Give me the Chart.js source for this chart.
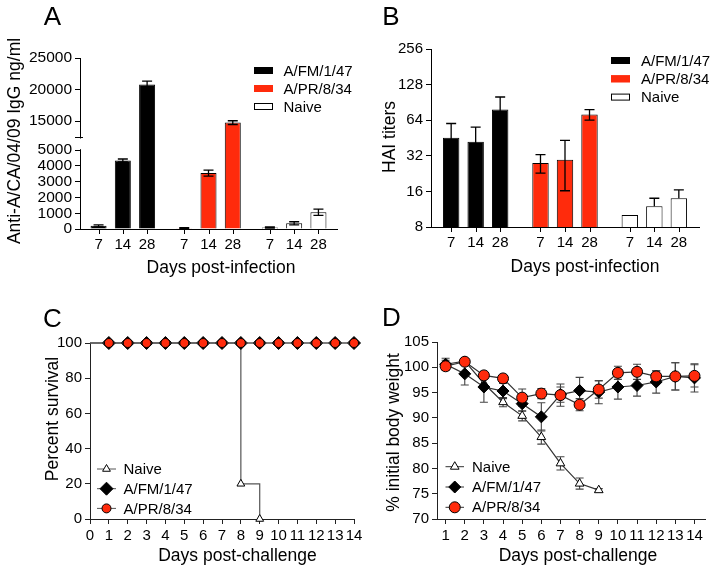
<!DOCTYPE html>
<html>
<head>
<meta charset="utf-8">
<script src="https://cdn.jsdelivr.net/npm/chart.js@4.4.1/dist/chart.umd.min.js"></script>
<style>
  body { margin: 0; background: #fff; }
  #fig { position: relative; width: 714px; height: 575px; overflow: hidden; }
  #fig canvas { position: absolute; }
</style>
</head>
<body>
<div id="fig">
  <canvas id="panelA" width="357" height="290" style="left:0;top:0"></canvas>
  <canvas id="panelB" width="357" height="290" style="left:357px;top:0"></canvas>
  <canvas id="panelC" width="380" height="285" style="left:0;top:290px"></canvas>
  <canvas id="panelD" width="357" height="285" style="left:357px;top:290px"></canvas>
</div>
<script>
const FONT = "'Liberation Sans', Arial, Helvetica, sans-serif";
const RED = '#ff2b0c';
Chart.defaults.font.family = FONT;
Chart.defaults.color = '#000';

// ── Data ────────────────────────────────────────────────────────────────
const strains = ['A/FM/1/47', 'A/PR/8/34', 'Naive'];
const infectionDays = ['7', '14', '28'];

// A: anti-A/CA/04/09 IgG (ng/ml), mean and SEM at day 7 / 14 / 28
const iggFM       = [200, 4350, 20800];
const iggFMErr    = [60, 90, 520];
const iggPR       = [50, 3550, 14750];
const iggPRErr    = [30, 190, 300];
const iggNaive    = [100, 360, 1060];
const iggNaiveErr = [40, 100, 200];
const iggTicks    = [0, 1000, 2000, 3000, 4000, 5000, 15000, 20000, 25000];

// B: HAI titers
const haiFM       = [45.5, 42, 79];
const haiFMErr    = [14.5, 14, 21.5];
const haiPR       = [27.8, 29.7, 71.4];
const haiPRErr    = [5, 13.5, 7.3];
const haiNaive    = [10.1, 12, 14];
const haiNaiveErr = [0, 2, 2.5];
const haiTicks    = [8, 16, 32, 64, 128, 256];

// C: percent survival
const survDays      = [0, 1, 2, 3, 4, 5, 6, 7, 8, 9, 10, 11, 12, 13, 14];
const survFM        = [100, 100, 100, 100, 100, 100, 100, 100, 100, 100, 100, 100, 100, 100, 100];
const survPR        = [100, 100, 100, 100, 100, 100, 100, 100, 100, 100, 100, 100, 100, 100, 100];
const survNaiveDays = [0, 8, 9];
const survNaive     = [100, 20, 0];

// D: % initial body weight
const weightDays     = [1, 2, 3, 4, 5, 6, 7, 8, 9, 10, 11, 12, 13, 14];
const weightNaive    = [100.6, 101.2, 96.8, 93.1, 90.4, 86.2, 81.0, 77.0, 75.7];
const weightNaiveErr = [1.2, 0.5, 1.0, 0.9, 1.0, 1.4, 1.3, 1.1, 0.3];
const weightFM       = [100.6, 98.7, 96.1, 95.3, 92.8, 90.2, 94.6, 95.4, 95.1, 96.1, 96.4, 97.1, 98.2, 97.9];
const weightFMErr    = [0.8, 2.2, 3.0, 1.5, 1.5, 2.8, 1.5, 2.6, 2.3, 2.4, 2.1, 2.2, 2.7, 2.8];
const weightPR       = [100.2, 101.1, 98.4, 97.8, 94.0, 94.8, 94.5, 92.6, 95.6, 98.9, 99.1, 98.2, 98.2, 98.3];
const weightPRErr    = [0.7, 0.4, 0.5, 0.6, 1.7, 1.0, 2.2, 1.2, 1.7, 1.3, 1.5, 1.1, 2.7, 2.2];

// ── Styling helpers ─────────────────────────────────────────────────────
const strainFill   = ['#000', RED, '#fff'];
const strainStroke = ['#000', RED, '#000'];

// Broken y axis of panel A: 0–5000 below the break, 12500–25000 squeezed above it
const BREAK_LO = 5000, BREAK_HI = 12500, BREAK_GAP = 850, UPPER_K = 0.4;
function brokenY(v) {
  return v <= BREAK_LO ? v : BREAK_LO + BREAK_GAP + (v - BREAK_HI) * UPPER_K;
}

const noInteraction = { responsive: false, animation: false, events: [], devicePixelRatio: 1 };

function axisGrid(color) {
  return { display: true, drawOnChartArea: false, drawTicks: true, tickLength: 5, color, lineWidth: 1 };
}

// One dataset per day, one bar per strain inside each group
function groupedBars(series, errs, transform) {
  return infectionDays.map((day, i) => ({
    label: day,
    data: series.map(s => transform(s[i])),
    err: series.map((s, k) => [transform(Math.max(s[i] - errs[k][i], 0)), transform(s[i] + errs[k][i])]),
    backgroundColor: strainFill,
    borderColor: '#000',
    borderWidth: 1,
  }));
}

function drawMarker(ctx, style, x, y, r, fill) {
  ctx.beginPath();
  if (style === 'circle') {
    ctx.arc(x, y, r, 0, Math.PI * 2);
  } else if (style === 'rectRot') {
    ctx.moveTo(x - r, y); ctx.lineTo(x, y - r); ctx.lineTo(x + r, y); ctx.lineTo(x, y + r);
    ctx.closePath();
  } else {
    for (let k = 0; k < 3; k++) {
      const a = k * 2 * Math.PI / 3;
      const px = x + Math.sin(a) * r, py = y - Math.cos(a) * r;
      k ? ctx.lineTo(px, py) : ctx.moveTo(px, py);
    }
    ctx.closePath();
  }
  ctx.fillStyle = fill;
  ctx.fill();
  ctx.strokeStyle = '#000';
  ctx.lineWidth = 1;
  ctx.stroke();
}

// ── Plugins ─────────────────────────────────────────────────────────────

function strokeErrors(chart, opts) {
  const { ctx } = chart;
  const y = chart.scales.y;
  const half = opts.cap / 2;
  ctx.save();
  ctx.strokeStyle = opts.color;
  ctx.lineWidth = opts.width;
  chart.data.datasets.forEach((ds, di) => {
    if (!ds.err) return;
    chart.getDatasetMeta(di).data.forEach((el, i) => {
      const [lo, hi] = ds.err[i];
      if (hi === lo) return;
      const top = y.getPixelForValue(hi);
      const upperOnly = opts.upperOnly && opts.upperOnly[i];
      const bot = upperOnly ? el.y : y.getPixelForValue(lo);
      ctx.beginPath();
      ctx.moveTo(el.x, top); ctx.lineTo(el.x, bot);
      ctx.moveTo(el.x - half, top); ctx.lineTo(el.x + half, top);
      if (!upperOnly) { ctx.moveTo(el.x - half, bot); ctx.lineTo(el.x + half, bot); }
      ctx.stroke();
    });
  });
  ctx.restore();
}

const errorBars = {
  id: 'errorBars',
  beforeDatasetsDraw(chart, args, opts) { if (opts.under) strokeErrors(chart, opts); },
  afterDatasetsDraw(chart, args, opts) { if (!opts.under) strokeErrors(chart, opts); },
};

// Tick mark and day label under every bar
const dayTicks = {
  id: 'dayTicks',
  afterDraw(chart, args, opts) {
    if (!opts.enabled) return;
    const { ctx, chartArea } = chart;
    ctx.save();
    ctx.strokeStyle = '#000';
    ctx.lineWidth = 1;
    ctx.fillStyle = '#000';
    ctx.font = `${opts.size}px ${FONT}`;
    ctx.textAlign = 'center';
    ctx.textBaseline = 'top';
    chart.data.datasets.forEach((ds, di) => {
      chart.getDatasetMeta(di).data.forEach(el => {
        const x = Math.round(el.x) + 0.5;
        ctx.beginPath();
        ctx.moveTo(x, chartArea.bottom); ctx.lineTo(x, chartArea.bottom + 5);
        ctx.stroke();
        ctx.fillText(ds.label, el.x, chartArea.bottom + 8);
      });
    });
    ctx.restore();
  }
};

// Gap in the y axis of panel A
const axisBreak = {
  id: 'axisBreak',
  afterDraw(chart, args, opts) {
    if (!opts.enabled) return;
    const { ctx, chartArea } = chart;
    const y = chart.scales.y;
    const lowTop = y.getPixelForValue(BREAK_LO);
    const upBot = Math.round(y.getPixelForValue(BREAK_LO + BREAK_GAP)) + 0.5;
    const x = chartArea.left;
    ctx.save();
    ctx.fillStyle = '#fff';
    ctx.fillRect(x - 2, upBot + 1, 4, lowTop - upBot - 2);
    ctx.strokeStyle = '#000';
    ctx.lineWidth = 1;
    ctx.beginPath();
    ctx.moveTo(x - 5, upBot); ctx.lineTo(x + 3, upBot);
    ctx.stroke();
    ctx.restore();
  }
};

const boxLegend = {
  id: 'boxLegend',
  afterDraw(chart, args, opts) {
    if (!opts.enabled) return;
    const ctx = chart.ctx;
    ctx.save();
    ctx.font = `${opts.size}px ${FONT}`;
    ctx.textAlign = 'left';
    ctx.textBaseline = 'middle';
    strains.forEach((name, i) => {
      const y = opts.y + i * opts.gap;
      ctx.fillStyle = strainFill[i];
      ctx.fillRect(opts.x, y - opts.h / 2, opts.w, opts.h);
      ctx.strokeStyle = strainStroke[i];
      ctx.lineWidth = 1;
      ctx.strokeRect(opts.x + 0.5, y - opts.h / 2 + 0.5, opts.w - 1, opts.h - 1);
      ctx.fillStyle = '#000';
      ctx.fillText(name, opts.textX, y + 1);
    });
    ctx.restore();
  }
};

const markerLegend = {
  id: 'markerLegend',
  afterDraw(chart, args, opts) {
    if (!opts.enabled) return;
    const ctx = chart.ctx;
    ctx.save();
    ctx.font = `${opts.size}px ${FONT}`;
    ctx.textAlign = 'left';
    ctx.textBaseline = 'middle';
    opts.order.forEach((label, i) => {
      const ds = chart.data.datasets.find(d => d.label === label);
      const y = opts.y + i * opts.gap;
      ctx.strokeStyle = ds.borderColor;
      ctx.lineWidth = 1;
      ctx.beginPath();
      ctx.moveTo(opts.x1, y); ctx.lineTo(opts.x2, y);
      ctx.stroke();
      drawMarker(ctx, ds.pointStyle, (opts.x1 + opts.x2) / 2, y, ds.markerR, ds.pointBackgroundColor);
      ctx.fillStyle = '#000';
      ctx.fillText(label, opts.textX, y + 1);
    });
    ctx.restore();
  }
};

const panelText = {
  id: 'panelText',
  afterDraw(chart, args, opts) {
    if (!opts.items) return;
    const ctx = chart.ctx;
    ctx.save();
    ctx.fillStyle = '#000';
    ctx.textAlign = 'center';
    ctx.textBaseline = 'middle';
    opts.items.forEach(t => {
      ctx.save();
      ctx.font = `${t.size}px ${FONT}`;
      ctx.translate(t.x, t.y);
      if (t.rotate) ctx.rotate(-Math.PI / 2);
      ctx.fillText(t.text, 0, 0);
      ctx.restore();
    });
    ctx.restore();
  }
};

const allPlugins = [errorBars, dayTicks, axisBreak, boxLegend, markerLegend, panelText];

// ── Panel A: IgG bars with broken axis ──────────────────────────────────
new Chart(document.getElementById('panelA'), {
  type: 'bar',
  data: {
    labels: strains,
    datasets: groupedBars([iggFM, iggPR, iggNaive], [iggFMErr, iggPRErr, iggNaiveErr], brokenY),
  },
  options: {
    ...noInteraction,
    categoryPercentage: 0.85,
    barPercentage: 0.66,
    layout: { padding: { left: 0, top: 58, right: 20, bottom: 0 } },
    scales: {
      x: {
        ticks: { display: false },
        grid: { display: true, drawOnChartArea: false, drawTicks: false },
        border: { color: '#000', width: 1 },
        afterFit: s => { s.height = 61; },
      },
      y: {
        min: 0,
        max: brokenY(25000),
        afterBuildTicks: s => { s.ticks = iggTicks.map(v => ({ value: brokenY(v) })); },
        ticks: { callback: (v, i) => String(iggTicks[i]), font: { size: 15.5 }, padding: 3, autoSkip: false },
        grid: axisGrid('#000'),
        border: { color: '#000', width: 1 },
        afterFit: s => { s.width = 80; },
      },
    },
    plugins: {
      legend: { display: false },
      tooltip: { enabled: false },
      errorBars: { color: '#000', width: 1.3, cap: 10 },
      dayTicks: { enabled: true, size: 15 },
      axisBreak: { enabled: true },
      boxLegend: { enabled: true, x: 254, y: 70.5, gap: 18, w: 19, h: 7, textX: 283.5, size: 15 },
      panelText: { items: [
        { text: 'A', x: 52.5, y: 18, size: 26 },
        { text: 'Anti-A/CA/04/09 IgG ng/ml', x: 15, y: 141, size: 17.5, rotate: true },
        { text: 'Days post-infection', x: 221, y: 268, size: 17.5 },
      ] },
    },
  },
  plugins: allPlugins,
});

// ── Panel B: HAI titers, log2 axis ──────────────────────────────────────
new Chart(document.getElementById('panelB'), {
  type: 'bar',
  data: {
    labels: strains,
    datasets: groupedBars([haiFM, haiPR, haiNaive], [haiFMErr, haiPRErr, haiNaiveErr], v => v),
  },
  options: {
    ...noInteraction,
    categoryPercentage: 0.823,
    barPercentage: 0.67,
    layout: { padding: { left: 0, top: 49, right: 15, bottom: 0 } },
    scales: {
      x: {
        ticks: { display: false },
        grid: { display: true, drawOnChartArea: false, drawTicks: false },
        border: { color: '#000', width: 1 },
        afterFit: s => { s.height = 63; },
      },
      y: {
        type: 'logarithmic',
        min: 8,
        max: 256,
        afterBuildTicks: s => { s.ticks = haiTicks.map(v => ({ value: v })); },
        ticks: { callback: (v, i) => String(haiTicks[i]), font: { size: 15 }, padding: 3, autoSkip: false },
        grid: axisGrid('#000'),
        border: { color: '#000', width: 1 },
        afterFit: s => { s.width = 74; },
      },
    },
    plugins: {
      legend: { display: false },
      tooltip: { enabled: false },
      errorBars: { color: '#000', width: 1.3, cap: 10, upperOnly: [false, false, true] },
      dayTicks: { enabled: true, size: 15 },
      boxLegend: { enabled: true, x: 254, y: 60.5, gap: 18.3, w: 19, h: 7, textX: 284, size: 15 },
      panelText: { items: [
        { text: 'B', x: 34, y: 18, size: 26 },
        { text: 'HAI titers', x: 33.5, y: 137, size: 17.5, rotate: true },
        { text: 'Days post-infection', x: 228, y: 267.5, size: 17.5 },
      ] },
    },
  },
  plugins: allPlugins,
});

// ── Panel C: survival ───────────────────────────────────────────────────
const hideDayZero = r => c => (c.raw && c.raw.x === 0) ? 0 : r;

new Chart(document.getElementById('panelC'), {
  type: 'line',
  data: {
    datasets: [
      {
        label: 'A/PR/8/34',
        data: survDays.map((d, i) => ({ x: d, y: survPR[i] })),
        borderColor: '#555', borderWidth: 1.2,
        pointStyle: 'circle', markerR: 4.5, pointRadius: hideDayZero(4.5),
        pointBackgroundColor: RED, pointBorderColor: '#000', pointBorderWidth: 1,
        clip: false, order: 0,
      },
      {
        label: 'A/FM/1/47',
        data: survDays.map((d, i) => ({ x: d, y: survFM[i] })),
        borderColor: '#555', borderWidth: 1.2,
        pointStyle: 'rectRot', markerR: 6.5, pointRadius: hideDayZero(6.5),
        pointBackgroundColor: '#000', pointBorderColor: '#000', pointBorderWidth: 1,
        clip: false, order: 1,
      },
      {
        label: 'Naive',
        data: survNaiveDays.map((d, i) => ({ x: d, y: survNaive[i] })),
        stepped: true,
        borderColor: '#555', borderWidth: 1.2,
        pointStyle: 'triangle', markerR: 4.5, pointRadius: hideDayZero(4.5),
        pointBackgroundColor: '#fff', pointBorderColor: '#000', pointBorderWidth: 1,
        clip: false, order: 2,
      },
    ],
  },
  options: {
    ...noInteraction,
    layout: { padding: { left: 0, top: 53, right: 26, bottom: 0 } },
    scales: {
      x: {
        type: 'linear', min: 0, max: 14,
        afterBuildTicks: s => { s.ticks = survDays.map(v => ({ value: v })); },
        ticks: { font: { size: 15 }, padding: 3, autoSkip: false, maxRotation: 0 },
        grid: axisGrid('#222'),
        border: { color: '#222', width: 1 },
        afterFit: s => { s.height = 56; },
      },
      y: {
        min: 0, max: 100,
        ticks: { stepSize: 20, font: { size: 15 }, padding: 3, autoSkip: false },
        grid: axisGrid('#222'),
        border: { color: '#222', width: 1 },
        afterFit: s => { s.width = 90; },
      },
    },
    plugins: {
      legend: { display: false },
      tooltip: { enabled: false },
      markerLegend: { enabled: true, order: ['Naive', 'A/FM/1/47', 'A/PR/8/34'], x1: 97, x2: 116, y: 179, gap: 19.7, textX: 123.5, size: 15 },
      panelText: { items: [
        { text: 'C', x: 52.5, y: 30, size: 26 },
        { text: 'Percent survival', x: 53.5, y: 129, size: 17.5, rotate: true },
        { text: 'Days post-challenge', x: 237.5, y: 266.5, size: 17.5 },
      ] },
    },
  },
  plugins: allPlugins,
});

// ── Panel D: body weight ────────────────────────────────────────────────
function withErr(values, errs) {
  return values.map((v, i) => [v - errs[i], v + errs[i]]);
}

new Chart(document.getElementById('panelD'), {
  type: 'line',
  data: {
    datasets: [
      {
        label: 'A/PR/8/34',
        data: weightPR.map((v, i) => ({ x: weightDays[i], y: v })),
        err: withErr(weightPR, weightPRErr),
        borderColor: '#333', borderWidth: 1.2,
        pointStyle: 'circle', markerR: 5.5, pointRadius: 5.5,
        pointBackgroundColor: RED, pointBorderColor: '#000', pointBorderWidth: 1,
        clip: false, order: 0,
      },
      {
        label: 'A/FM/1/47',
        data: weightFM.map((v, i) => ({ x: weightDays[i], y: v })),
        err: withErr(weightFM, weightFMErr),
        borderColor: '#333', borderWidth: 1.2,
        pointStyle: 'rectRot', markerR: 6, pointRadius: 6,
        pointBackgroundColor: '#000', pointBorderColor: '#000', pointBorderWidth: 1,
        clip: false, order: 1,
      },
      {
        label: 'Naive',
        data: weightNaive.map((v, i) => ({ x: weightDays[i], y: v })),
        err: withErr(weightNaive, weightNaiveErr),
        borderColor: '#333', borderWidth: 1.2,
        pointStyle: 'triangle', markerR: 5, pointRadius: 5,
        pointBackgroundColor: '#fff', pointBorderColor: '#000', pointBorderWidth: 1,
        clip: false, order: 2,
      },
    ],
  },
  options: {
    ...noInteraction,
    layout: { padding: { left: 0, top: 52, right: 9, bottom: 0 } },
    scales: {
      x: {
        type: 'linear', min: 0.55, max: 14.55,
        afterBuildTicks: s => { s.ticks = weightDays.map(v => ({ value: v })); },
        ticks: { font: { size: 15 }, padding: 3, autoSkip: false, maxRotation: 0 },
        grid: axisGrid('#222'),
        border: { color: '#222', width: 1 },
        afterFit: s => { s.height = 56; },
      },
      y: {
        min: 70, max: 105,
        ticks: { stepSize: 5, font: { size: 15 }, padding: 3, autoSkip: false },
        grid: axisGrid('#222'),
        border: { color: '#222', width: 1 },
        afterFit: s => { s.width = 80; },
      },
    },
    plugins: {
      legend: { display: false },
      tooltip: { enabled: false },
      errorBars: { color: '#444', width: 1.1, cap: 8, under: true },
      markerLegend: { enabled: true, order: ['Naive', 'A/FM/1/47', 'A/PR/8/34'], x1: 88.5, x2: 107, y: 176.7, gap: 20.3, textX: 115, size: 15 },
      panelText: { items: [
        { text: 'D', x: 34.5, y: 28.7, size: 26 },
        { text: '% initial body weight', x: 36.7, y: 142.5, size: 17.5, rotate: true },
        { text: 'Days post-challenge', x: 221, y: 266.5, size: 17.5 },
      ] },
    },
  },
  plugins: allPlugins,
});
</script>
</body>
</html>
